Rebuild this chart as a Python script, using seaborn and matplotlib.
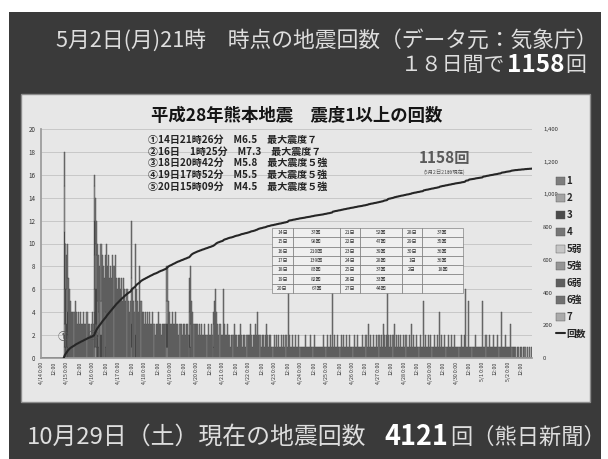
import numpy as np
import pandas as pd
import matplotlib
matplotlib.use("Agg")
import matplotlib.pyplot as plt
import seaborn as sns
from matplotlib.patches import Rectangle, Patch
from matplotlib.lines import Line2D

# ---------------- data ----------------
dates = ["4/14", "4/15", "4/16", "4/17", "4/18", "4/19", "4/20", "4/21", "4/22", "4/23",
         "4/24", "4/25", "4/26", "4/27", "4/28", "4/29", "4/30", "5/1", "5/2"]
day_names = ["14日", "15日", "16日", "17日", "18日", "19日", "20日", "21日", "22日", "23日",
             "24日", "25日", "26日", "27日", "28日", "29日", "30日", "1日", "2日"]

# hourly counts (shindo >= 1), one list per day, hour 0..23
hourly = [
    [0] * 21 + [18, 10, 9],
    [10, 7, 6, 5, 4, 4, 4, 5, 4, 3, 4, 3, 4, 3, 3, 4, 3, 3, 4, 3, 3, 2, 3, 4],
    [3, 16, 14, 12, 10, 9, 8, 10, 9, 8, 7, 9, 10, 8, 9, 7, 8, 7, 9, 8, 9, 7, 6, 7],
    [7, 6, 7, 5, 7, 6, 5, 6, 5, 4, 5, 12, 6, 5, 4, 10, 6, 5, 4, 8, 5, 4, 4, 3],
    [4, 3, 4, 3, 4, 3, 3, 4, 3, 2, 3, 3, 4, 3, 3, 2, 3, 3, 3, 3, 8, 5, 4, 3],
    [3, 4, 3, 3, 4, 3, 3, 2, 3, 3, 2, 3, 3, 2, 3, 3, 2, 7, 8, 5, 4, 3, 3, 3],
    [3, 2, 3, 2, 3, 2, 2, 3, 2, 2, 3, 2, 2, 3, 2, 4, 5, 6, 4, 3, 2, 3, 2, 2],
    [6, 3, 2, 2, 3, 2, 2, 1, 2, 2, 3, 2, 2, 1, 2, 2, 3, 2, 1, 2, 2, 1, 2, 2],
    [2, 3, 2, 1, 2, 2, 3, 2, 4, 2, 2, 1, 2, 2, 1, 2, 3, 2, 1, 2, 2, 1, 1, 2],
    [1, 2, 1, 2, 1, 1, 2, 1, 2, 1, 2, 1, 7, 2, 1, 1, 2, 1, 1, 2, 1, 1, 2, 1],
    [1, 1, 1, 1, 2, 1, 1, 1, 1, 2, 1, 1, 2, 1, 1, 1, 1, 1, 1, 1, 1, 2, 1, 1],
    [2, 1, 1, 2, 1, 6, 1, 2, 1, 1, 2, 1, 1, 2, 1, 2, 1, 1, 2, 1, 1, 2, 1, 1],
    [1, 2, 1, 1, 2, 1, 1, 1, 1, 2, 1, 1, 2, 1, 3, 1, 2, 1, 1, 2, 1, 1, 2, 1],
    [2, 1, 2, 1, 3, 2, 1, 2, 6, 2, 1, 2, 1, 2, 3, 1, 2, 1, 2, 1, 2, 1, 1, 2],
    [1, 2, 1, 1, 2, 1, 3, 1, 2, 1, 1, 2, 1, 1, 2, 1, 1, 5, 1, 2, 1, 1, 2, 1],
    [2, 1, 1, 2, 1, 1, 2, 1, 4, 1, 2, 1, 1, 2, 1, 1, 2, 1, 1, 2, 1, 1, 2, 1],
    [1, 1, 1, 1, 2, 1, 1, 2, 6, 1, 1, 5, 1, 1, 1, 1, 1, 2, 1, 1, 1, 1, 1, 1],
    [5, 1, 1, 2, 1, 1, 2, 1, 1, 1, 2, 1, 1, 1, 2, 1, 1, 4, 1, 1, 1, 2, 1, 1],
    [1, 1, 3, 1, 1, 1, 1, 0, 1, 1, 0, 1, 1, 0, 1, 1, 0, 1, 0, 1, 0, 1],
]

levels = ["1", "2", "3", "4", "5弱", "5強", "6弱", "6強", "7"]
level_colors = ["#7d7d7d", "#a3a3a3", "#4a4a4a", "#767676", "#c6c6c6",
                "#959595", "#5e5e5e", "#707070", "#aaaaaa"]

# counts of shindo 2 and above within some hours: (hour index from 4/14 0時, level, count)
upper_events = [
    (21, "7", 1), (21, "6弱", 1), (21, "5弱", 1), (21, "4", 3), (21, "3", 5), (21, "2", 4),
    (22, "6弱", 1), (22, "4", 2), (22, "3", 3), (22, "2", 4),
    (23, "4", 1), (23, "3", 2), (23, "2", 3),
    (24, "6強", 1), (24, "4", 1), (24, "3", 2), (24, "2", 3),
    (49, "7", 1), (49, "6強", 1), (49, "6弱", 2), (49, "5強", 2), (49, "4", 3), (49, "3", 3), (49, "2", 3),
    (50, "5弱", 1), (50, "4", 2), (50, "3", 3), (50, "2", 4),
    (51, "5強", 1), (51, "4", 2), (51, "3", 3), (51, "2", 3),
    (52, "3", 2), (52, "2", 3), (53, "4", 1), (53, "2", 3),
    (55, "3", 2), (55, "2", 3), (59, "4", 1), (59, "2", 3),
    (83, "5弱", 1), (83, "3", 2), (83, "2", 4), (87, "3", 2), (87, "2", 3),
    (116, "5強", 1), (116, "3", 2), (116, "2", 2),
    (137, "5強", 1), (137, "3", 1), (137, "2", 2), (138, "4", 1), (138, "2", 2),
    (159, "5強", 1), (159, "2", 2),
]

events = ["①14日21時26分　M6.5　最大震度７",
          "②16日　1時25分　M7.3　最大震度７",
          "③18日20時42分　M5.8　最大震度５強",
          "④19日17時52分　M5.5　最大震度５強",
          "⑤20日15時09分　M4.5　最大震度５強"]

title_top = "5月2日(月)21時　時点の地震回数（データ元：気象庁）"
total_label = "1158"
bottom_total = "4121"
chart_title = "平成28年熊本地震　震度1以上の回数"

# ---------------- build frames ----------------
totals = [c for d in hourly for c in d]
n_hours = len(totals)
upper = {}
for h, lv, c in upper_events:
    upper[h] = upper.get(h, 0) + c
rows = []
for h, t in enumerate(totals):
    rows.append({"x": h + 0.5, "level": "1", "count": t - upper.get(h, 0)})
for h, lv, c in upper_events:
    rows.append({"x": h + 0.5, "level": lv, "count": c})
df = pd.DataFrame(rows)

cum = np.cumsum(totals)
first = next(i for i, t in enumerate(totals) if t > 0)
line_x = [first] + [h + 1 for h in range(first, n_hours)]
line_y = [0] + [int(cum[h]) for h in range(first, n_hours)]
daily = [sum(d) for d in hourly]

# ---------------- figure ----------------
sns.set_theme(style="white")
plt.rcParams["font.family"] = ["Noto Sans CJK JP", "DejaVu Sans"]

W, H = 608, 459
fig = plt.figure(figsize=(W / 100, H / 100), dpi=100)
fig.patch.set_facecolor("white")


def fx(p):
    return p / W


def fy(p):
    return 1 - p / H


fig.patches.append(Rectangle((fx(9), 0), fx(601) - fx(9), fy(12), transform=fig.transFigure,
                             facecolor="#3a3a3a", edgecolor="none", zorder=-3))
fig.patches.append(Rectangle((fx(21), fy(402)), fx(590) - fx(21), fy(94) - fy(402),
                             transform=fig.transFigure, facecolor="#e7e7e7",
                             edgecolor="#8c8c8c", lw=1.0, zorder=-2))

ax = fig.add_axes([fx(41), fy(358), fx(532) - fx(41), fy(129) - fy(358)])
ax.set_facecolor("none")
sns.histplot(data=df, x="x", weights="count", hue="level", hue_order=levels,
             palette=dict(zip(levels, level_colors)), multiple="stack",
             binwidth=1, binrange=(0, 454), ax=ax, legend=False,
             edgecolor="#454545", linewidth=0.3, alpha=1)
ax.set_xlim(0, 454)
ax.set_ylim(0, 20)
ax.set_yticks(range(0, 21, 2))
ax.set_yticklabels([str(v) for v in range(0, 21, 2)])
xt = list(range(0, 445, 12))
xl = [(dates[h // 24] + " 0:00") if h % 24 == 0 else "12:00" for h in xt]
ax.set_xticks(xt)
ax.set_xticklabels(xl, rotation=90)
ax.set_xlabel("")
ax.set_ylabel("")
ax.yaxis.grid(True, color="#c2c2c2", lw=0.6)
ax.set_axisbelow(True)
for s in ["top", "right"]:
    ax.spines[s].set_visible(False)
ax.spines["left"].set_color("#9a9a9a")
ax.spines["bottom"].set_color("#9a9a9a")
ax.tick_params(axis="y", length=0, labelsize=4.5, colors="#333333", pad=4)
ax.tick_params(axis="x", length=0, labelsize=3.8, colors="#333333", pad=3)

ax2 = ax.twinx()
sns.lineplot(x=line_x, y=line_y, ax=ax2, color="#262626", lw=1.5)
ax2.set_ylim(0, 1400)
ax2.set_yticks(range(0, 1401, 200))
ax2.set_yticklabels([f"{v:,}" for v in range(0, 1401, 200)])
ax2.grid(False)
for s in ["top", "right", "left", "bottom"]:
    ax2.spines[s].set_visible(False)
ax2.tick_params(axis="y", length=0, labelsize=4.3, colors="#333333", pad=8)

# circled markers
ax.text(20.5, 1.8, "①", fontsize=8, color="#555555", ha="center", va="center")
ax.text(48.5, 1.9, "②", fontsize=8, color="#555555", ha="center", va="center")

# ---------------- texts ----------------
light = "#dedede"
renderer = fig.canvas.get_renderer()


def chain(pieces, y, x_left=None, x_right=None):
    """pieces: list of (text, fontsize, weight, color, gap_before); placed side by side."""
    objs = [fig.text(0, fy(y), t, fontsize=fs, weight=wt, color=c, ha="left", va="center")
            for t, fs, wt, c, g in pieces]
    widths = [o.get_window_extent(renderer).width for o in objs]
    total = sum(widths) + sum(p[4] for p in pieces[1:])
    x = x_left if x_left is not None else x_right - total
    for i, (o, w) in enumerate(zip(objs, widths)):
        if i > 0:
            x += pieces[i][4]
        o.set_x(fx(x))
        x += w


fig.text(fx(56), fy(40), title_top, fontsize=15.7, color=light, ha="left", va="center")
chain([("１８日間で", 15, "normal", light, 0), (total_label, 17.5, "bold", "white", 1),
       ("回", 15, "normal", light, 1)], y=65, x_right=586)
chain([("10月29日（土）現在の地震回数", 17.2, "normal", light, 0),
       (bottom_total, 19.5, "bold", "white", 18),
       ("回（熊日新聞）", 16, "normal", light, 2)], y=437, x_left=27)
fig.text(fx(297), fy(116), chart_title, fontsize=12.5, weight="bold", color="#151515",
         ha="center", va="center")
for i, e in enumerate(events):
    fig.text(fx(148), fy(140 + i * 11.7), e, fontsize=7.2, weight="bold", color="#222222",
             ha="left", va="center")
fig.text(fx(444), fy(158), total_label + "回", fontsize=11, weight="bold", color="#5a5a5a",
         ha="center", va="center")
fig.text(fx(444), fy(172), "(5月2日21時現在)", fontsize=3.8, color="#555555", ha="center", va="center")

# table
cols = [day_names[0:7], daily[0:7], day_names[7:14], daily[7:14], day_names[14:19], daily[14:19]]
cell = []
for r in range(7):
    row = []
    for ci in range(0, 6, 2):
        if r < len(cols[ci]):
            row += [cols[ci][r], f"{cols[ci + 1][r]}回"]
        else:
            row += ["", ""]
    cell.append(row)
tax = fig.add_axes([fx(272), fy(293), fx(463) - fx(272), fy(228) - fy(293)])
tax.axis("off")
widths = np.array([21, 47, 20, 42, 20, 41], float)
tbl = tax.table(cellText=cell, cellLoc="center", bbox=[0, 0, 1, 1],
                colWidths=list(widths / widths.sum()))
tbl.auto_set_font_size(False)
tbl.set_fontsize(3.6)
for (r, c), ce in tbl.get_celld().items():
    ce.set_facecolor("#efefef")
    ce.set_edgecolor("#6a6a6a")
    ce.set_linewidth(0.4)
    ce.get_text().set_color("#333333")

# legend
handles = [Patch(facecolor=col, edgecolor="#555555", lw=0.3) for col in level_colors]
handles.append(Line2D([0], [0], color="#262626", lw=1.5))
fig.legend(handles, levels + ["回数"], loc="upper left", bbox_to_anchor=(fx(556), fy(176)),
           frameon=False, prop={"size": 7, "weight": "bold"}, labelspacing=0.72,
           handlelength=0.9, handleheight=0.9, handletextpad=0.2, borderpad=0, borderaxespad=0)

fig.savefig("out.png", dpi=100)
